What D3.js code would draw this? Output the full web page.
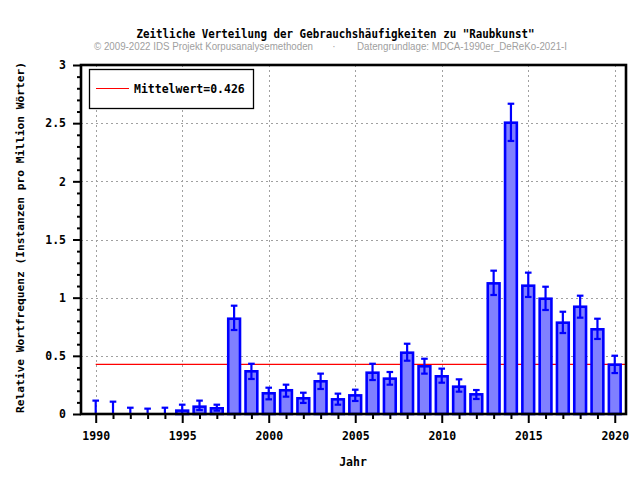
<!DOCTYPE html>
<html><head><meta charset="utf-8">
<script src="https://cdn.jsdelivr.net/npm/d3@7"></script>
<style>body{margin:0;background:#fff}svg{display:block}</style>
</head><body>
<script>
const years = d3.range(1990, 2021);
const values = [0,0,0,0,0,0.029,0.063,0.049,0.819,0.367,0.178,0.204,0.135,0.281,0.126,0.160,0.355,0.304,0.527,0.410,0.324,0.235,0.169,1.123,2.504,1.103,0.991,0.785,0.922,0.728,0.424];
const upper = [0.115,0.106,0.054,0.046,0.054,0.080,0.115,0.080,0.931,0.432,0.226,0.252,0.183,0.347,0.175,0.209,0.432,0.361,0.604,0.475,0.390,0.298,0.206,1.232,2.667,1.215,1.094,0.879,1.017,0.819,0.501];
const lower = [0,0,0,0,0,0,0.034,0.029,0.722,0.301,0.126,0.149,0.095,0.215,0.080,0.112,0.292,0.252,0.458,0.347,0.269,0.192,0.129,1.023,2.347,1.006,0.894,0.696,0.828,0.645,0.352];
const meanValue = 0.426;
const xMajorTicks = [1990,1995,2000,2005,2010,2015,2020];
const yMajorTicks = [0,0.5,1,1.5,2,2.5,3];
const titleText = 'Zeitliche Verteilung der Gebrauchshäufigkeiten zu "Raubkunst"';
const subLeft = '© 2009-2022 IDS Projekt Korpusanalysemethoden';
const subRight = 'Datengrundlage: MDCA-1990er_DeReKo-2021-I';
const xLabel = 'Jahr';
const yLabel = 'Relative Wortfrequenz (Instanzen pro Million Wörter)';
const legendLabel = 'Mittelwert=0.426';

const W = 640, H = 480;
const L = 81, R = 626, T = 65, B = 414;
const mono = "'DejaVu Sans Mono', monospace";
const svg = d3.select('body').append('svg').attr('width', W).attr('height', H);

const x = d3.scaleLinear().domain([1989.15, 2020.65]).range([L, R]);
const y = d3.scaleLinear().domain([0, 3]).range([B, T]);

// grid
const grid = svg.append('g').attr('stroke', '#a0a0a0').attr('stroke-width', 1).attr('stroke-dasharray', '2,3');
grid.selectAll('.gx').data(xMajorTicks).join('line')
  .attr('x1', d => Math.round(x(d)) + 0.5).attr('x2', d => Math.round(x(d)) + 0.5)
  .attr('y1', T).attr('y2', B);
grid.selectAll('.gy').data(yMajorTicks.filter(d => d > 0 && d < 3)).join('line')
  .attr('y1', d => Math.round(y(d)) + 0.5).attr('y2', d => Math.round(y(d)) + 0.5)
  .attr('x1', L).attr('x2', R);

// mean line
svg.append('line').attr('x1', x(1990)).attr('x2', R)
  .attr('y1', y(meanValue)).attr('y2', y(meanValue))
  .attr('stroke', '#ff0000').attr('stroke-width', 1.2);

// bars
const bw = x(1990.68) - x(1990);
const data = years.map((yr, i) => ({yr, v: values[i], hi: upper[i], lo: lower[i]}));
svg.append('g').selectAll('rect').data(data.filter(d => d.v > 0)).join('rect')
  .attr('x', d => x(d.yr) - bw / 2).attr('width', bw)
  .attr('y', d => y(d.v)).attr('height', d => y(0) - y(d.v))
  .attr('fill', '#8080ff').attr('stroke', '#0000ff').attr('stroke-width', 2.6);

// error bars
const eb = svg.append('g').attr('stroke', '#0000ff').attr('stroke-width', 2.2);
eb.selectAll('.v').data(data).join('line')
  .attr('x1', d => x(d.yr)).attr('x2', d => x(d.yr))
  .attr('y1', d => y(d.hi)).attr('y2', d => y(d.lo));
eb.selectAll('.t').data(data).join('line')
  .attr('x1', d => x(d.yr) - 3.3).attr('x2', d => x(d.yr) + 3.3)
  .attr('y1', d => y(d.hi)).attr('y2', d => y(d.hi));
eb.selectAll('.b').data(data.filter(d => d.lo > 0)).join('line')
  .attr('x1', d => x(d.yr) - 3.3).attr('x2', d => x(d.yr) + 3.3)
  .attr('y1', d => y(d.lo)).attr('y2', d => y(d.lo));

// axes
const xMinor = svg.append('g').attr('transform', `translate(0,${B})`)
  .call(d3.axisBottom(x).tickValues(years.filter(d => !xMajorTicks.includes(d))).tickSize(5).tickFormat(''));
const xMajor = svg.append('g').attr('transform', `translate(0,${B})`)
  .call(d3.axisBottom(x).tickValues(xMajorTicks).tickSize(9).tickPadding(9).tickFormat(d3.format('d')));
const yMinor = svg.append('g').attr('transform', `translate(${L},0)`)
  .call(d3.axisLeft(y).tickValues(d3.range(0, 31).map(d => d / 10).filter(d => Math.round(d * 10) % 5 !== 0)).tickSize(4).tickFormat(''));
const yMajor = svg.append('g').attr('transform', `translate(${L},0)`)
  .call(d3.axisLeft(y).tickValues(yMajorTicks).tickSize(8).tickPadding(7).tickFormat(d => d === 0 ? '0' : String(d)));
[xMinor, xMajor, yMinor, yMajor].forEach(g => {
  g.select('.domain').remove();
  g.selectAll('line').attr('stroke', '#000').attr('stroke-width', 2);
  g.selectAll('text').attr('font-family', mono).attr('font-weight', 'bold').attr('font-size', '11.5px').attr('fill', '#000');
});

// frame
svg.append('rect').attr('x', L).attr('y', T).attr('width', R - L).attr('height', B - T)
  .attr('fill', 'none').attr('stroke', '#000').attr('stroke-width', 2.6);

// legend
const lg = svg.append('g');
lg.append('rect').attr('x', 89.5).attr('y', 69.5).attr('width', 164).attr('height', 39)
  .attr('fill', '#fff').attr('stroke', '#000').attr('stroke-width', 1.3);
lg.append('line').attr('x1', 96).attr('x2', 129).attr('y1', 88.5).attr('y2', 88.5)
  .attr('stroke', '#ff0000').attr('stroke-width', 1.2);
lg.append('text').attr('x', 134).attr('y', 92.5).text(legendLabel)
  .attr('font-family', mono).attr('font-weight', 'bold').attr('font-size', '11.5px');

// titles
svg.append('text').attr('x', 136.5).attr('y', 37.5).text(titleText)
  .attr('font-family', mono).attr('font-weight', 'bold').attr('font-size', '11.5px')
  .attr('textLength', 398).attr('lengthAdjust', 'spacingAndGlyphs');
const sub = svg.append('g').attr('fill', '#a0a0a0').attr('font-family', "'Liberation Sans', Arial, sans-serif").attr('font-size', '10px');
sub.append('text').attr('x', 94).attr('y', 50).text(subLeft).attr('textLength', 219).attr('lengthAdjust', 'spacingAndGlyphs');
sub.append('text').attr('x', 334).attr('y', 50).attr('text-anchor', 'middle').text('·');
sub.append('text').attr('x', 357).attr('y', 50).text(subRight).attr('textLength', 210).attr('lengthAdjust', 'spacingAndGlyphs');

svg.append('text').attr('x', 353).attr('y', 466).attr('text-anchor', 'middle').text(xLabel)
  .attr('font-family', mono).attr('font-weight', 'bold').attr('font-size', '11.5px');
svg.append('text').attr('transform', 'translate(24,237.5) rotate(-90)').attr('text-anchor', 'middle').text(yLabel)
  .attr('font-family', mono).attr('font-weight', 'bold').attr('font-size', '11.2px')
  .attr('textLength', 351).attr('lengthAdjust', 'spacingAndGlyphs');
</script>
</body></html>
